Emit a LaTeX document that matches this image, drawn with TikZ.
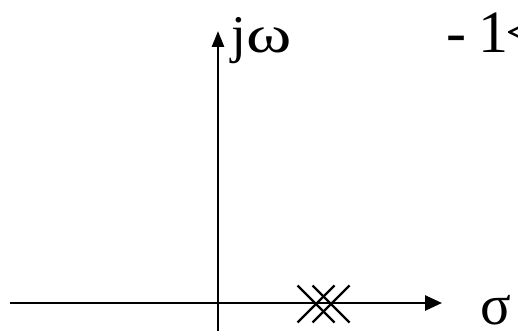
\documentclass[tikz,border=0pt]{standalone}
\usepackage{graphicx}
\usepackage{fontspec}
\setmainfont{Liberation Serif}
\usetikzlibrary{arrows.meta}
\begin{document}
\begin{tikzpicture}[x=1pt,y=-1pt,
  axis/.style={line width=2.6pt,-{Triangle[length=17pt,width=15pt]}},
  pole/.style={line width=2.4pt},
  lbl/.style={inner sep=0pt,anchor=base west}]
\path[use as bounding box] (0,0) rectangle (518,331);
\clip (0,0) rectangle (518,331);
\coordinate (hs) at (10,303);
\coordinate (he) at (442,303);
\coordinate (vs) at (218,331);
\coordinate (ve) at (218,31);
\draw[axis] (hs) -- (he);
\draw[axis,-{Triangle[length=16pt,width=12pt]}] (vs) -- (ve);
\coordinate (p1) at (316,304);
\coordinate (p2) at (331,304);
\foreach \p in {p1,p2}{
  \draw[pole] ([shift={(-18.5,-18.5)}]\p) -- ([shift={(18.5,18.5)}]\p);
  \draw[pole] ([shift={(-18.5,18.5)}]\p) -- ([shift={(18.5,-18.5)}]\p);
}
\node[lbl,font=\fontsize{53}{53}\selectfont] (jw) at (231,53) {j\kern1pt\scalebox{1.3}[1]{ω}};
\node[lbl,font=\fontsize{60}{60}\selectfont] (k) at (446,53) {-\kern12pt 1\kern-3pt<};
\node[lbl,font=\fontsize{57}{57}\selectfont] (s) at (480,324) {σ};
\end{tikzpicture}
\end{document}
